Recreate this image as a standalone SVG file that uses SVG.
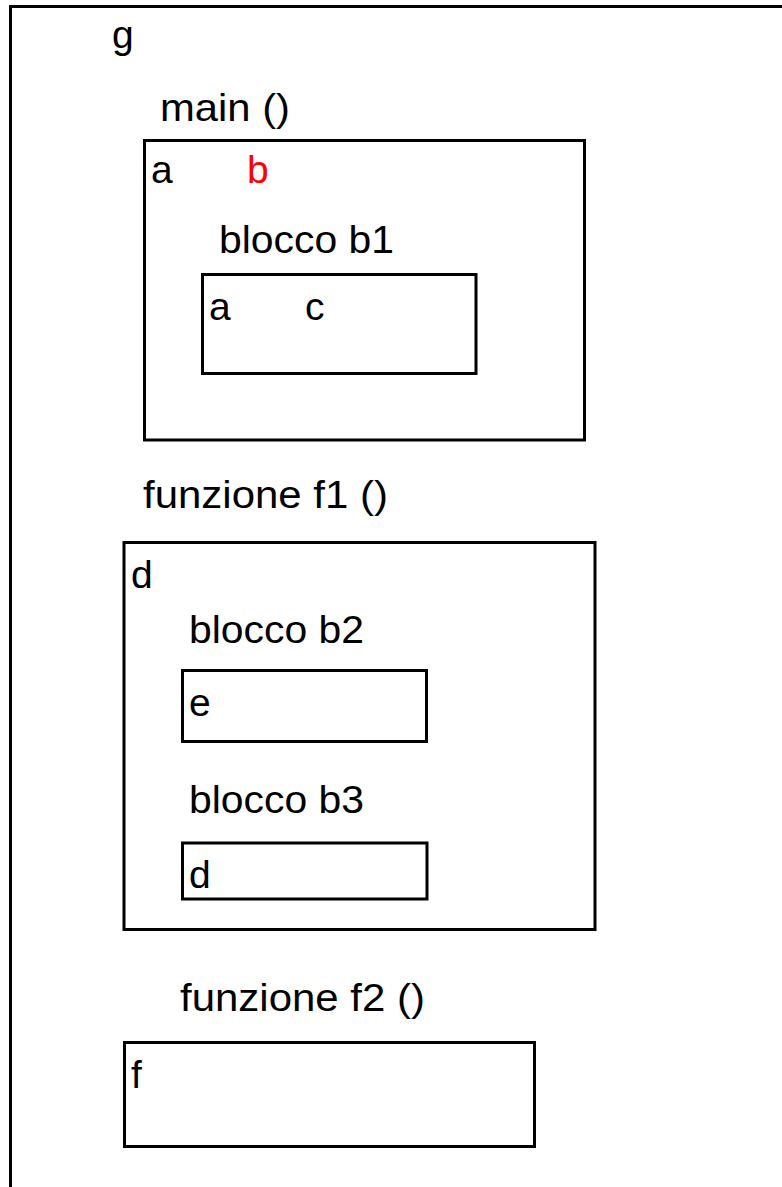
<svg xmlns="http://www.w3.org/2000/svg" width="782" height="1187" viewBox="0 0 782 1187">
<style>
.box{fill:none;stroke:#000;stroke-width:3}
.t{font-family:"Liberation Sans",Arial,sans-serif;font-size:39px;fill:#000}
.red{fill:#ff0000}
</style>
<rect width="782" height="1187" fill="#fff"/>
<g id="g-scope">
<path class="box" d="M10.5,1190 V6.5 H790"/>
<text class="t" x="112" y="48">g</text>
</g>
<g id="main">
<text class="t" x="160" y="121" textLength="130" lengthAdjust="spacingAndGlyphs">main ()</text>
<rect class="box" x="144.5" y="140.5" width="440" height="299.5"/>
<text class="t" x="151" y="183">a</text>
<text class="t red" x="247" y="183">b</text>
</g>
<g id="b1">
<text class="t" x="219" y="253" textLength="175" lengthAdjust="spacingAndGlyphs">blocco b1</text>
<rect class="box" x="202.5" y="274.5" width="273.5" height="99"/>
<text class="t" x="209" y="320">a</text>
<text class="t" x="305" y="320">c</text>
</g>
<g id="f1">
<text class="t" x="143" y="508" textLength="245" lengthAdjust="spacingAndGlyphs">funzione f1 ()</text>
<rect class="box" x="124" y="542.5" width="471" height="387"/>
<text class="t" x="131" y="588">d</text>
</g>
<g id="b2">
<text class="t" x="189" y="643" textLength="175" lengthAdjust="spacingAndGlyphs">blocco b2</text>
<rect class="box" x="182.5" y="670.5" width="244" height="71"/>
<text class="t" x="189" y="716">e</text>
</g>
<g id="b3">
<text class="t" x="189" y="813" textLength="175" lengthAdjust="spacingAndGlyphs">blocco b3</text>
<rect class="box" x="182.5" y="843" width="244.5" height="56"/>
<text class="t" x="189" y="888">d</text>
</g>
<g id="f2">
<text class="t" x="180" y="1011" textLength="245" lengthAdjust="spacingAndGlyphs">funzione f2 ()</text>
<rect class="box" x="124.5" y="1042.5" width="410" height="104"/>
<text class="t" x="131" y="1088">f</text>
</g>
<g id="connectors"></g>
</svg>
